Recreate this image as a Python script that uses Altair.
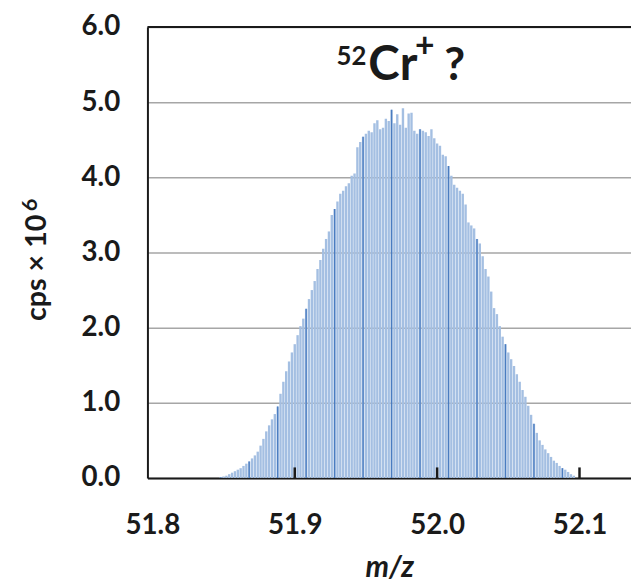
import altair as alt
import pandas as pd

# ---------------- data ----------------
mz_start = 51.848
mz_step = 0.002
cps = [
    0.01, 0.02, 0.03, 0.05, 0.07, 0.09, 0.11, 0.13, 0.16, 0.19,
    0.22, 0.26, 0.30, 0.35, 0.43, 0.52, 0.62, 0.70, 0.78, 0.85,
    0.95, 1.12, 1.28, 1.42, 1.55, 1.67, 1.78, 1.90, 2.02, 2.12,
    2.25, 2.38, 2.50, 2.62, 2.78, 2.90, 3.05, 3.18, 3.28, 3.50,
    3.58, 3.68, 3.78, 3.82, 3.88, 3.92, 4.02, 4.05, 4.40, 4.47,
    4.54, 4.58, 4.62, 4.60, 4.72, 4.76, 4.64, 4.66, 4.78, 4.75,
    4.90, 4.72, 4.84, 4.70, 4.92, 4.66, 4.85, 4.86, 4.62, 4.58,
    4.64, 4.62, 4.60, 4.55, 4.64, 4.52, 4.45, 4.42, 4.30, 4.28,
    4.15, 4.02, 3.90, 3.86, 3.82, 3.78, 3.64, 3.40, 3.36, 3.32,
    3.18, 3.12, 2.95, 2.78, 2.68, 2.48, 2.26, 2.18, 2.02, 1.88,
    1.78, 1.67, 1.58, 1.49, 1.38, 1.28, 1.17, 1.08, 0.96, 0.84,
    0.72, 0.60, 0.50, 0.44, 0.38, 0.33, 0.28, 0.23, 0.20, 0.16,
    0.13, 0.11, 0.08, 0.05, 0.03,
]
mz = [round(mz_start + mz_step * i, 3) for i in range(len(cps))]

x_tick_values = [51.8, 51.9, 52.0, 52.1]
inner_tick_values = [51.9, 52.0, 52.1]
y_tick_values = [0, 1, 2, 3, 4, 5, 6]
x_domain = [51.8, 52.1327]
y_domain = [0, 6]

df = pd.DataFrame({"mz": mz, "cps": cps})
ticks_df = pd.DataFrame({"t": inner_tick_values})

FONT = "Lato"
INK = "#1a1a1a"

xscale = alt.Scale(domain=x_domain, nice=False, zero=False)
yscale = alt.Scale(domain=y_domain, nice=False, zero=True)

x_axis = alt.Axis(
    values=x_tick_values, format=".1f", grid=False, ticks=False, tickSize=0,
    labelFont=FONT, labelFontSize=28, labelFontWeight="bold", labelColor=INK,
    labelPadding=34, domainColor=INK, domainWidth=2,
    title="m/z", titleFont=FONT, titleFontSize=30, titleFontStyle="italic",
    titleFontWeight="bold", titleColor=INK, titlePadding=14,
)
y_axis = alt.Axis(
    values=y_tick_values, format=".1f", grid=True, gridColor="#a6a6a6",
    gridWidth=1.5, ticks=False, tickSize=0,
    labelFont=FONT, labelFontSize=28, labelFontWeight="bold", labelColor=INK,
    labelPadding=28, domainColor=INK, domainWidth=2,
    title="cps × 10", titleFont=FONT, titleFontSize=29, titleFontWeight="bold",
    titleColor=INK, titleAngle=-90, titleAlign="center",
    titleBaseline="alphabetic", titleX=-103, titleY=243,
)

bars = alt.Chart(df).mark_bar(size=2.4, color="#a4bfe2").encode(
    x=alt.X("mz:Q", scale=xscale, axis=x_axis),
    y=alt.Y("cps:Q", scale=yscale, axis=y_axis),
)

dark = alt.Chart(df).transform_window(
    idx="row_number()"
).transform_filter(
    "datum.idx % 10 == 1"
).mark_bar(size=1.3, color="#4a7cc0").encode(
    x=alt.X("mz:Q", scale=xscale),
    y=alt.Y("cps:Q", scale=yscale),
)

top_border = alt.Chart(pd.DataFrame({"y": [6]})).mark_rule(
    color=INK, strokeWidth=2
).encode(y=alt.Y("y:Q", scale=yscale))

inner_ticks = alt.Chart(ticks_df).mark_rule(color=INK, strokeWidth=2.5).encode(
    x=alt.X("t:Q", scale=xscale),
    y=alt.YDatum(0),
    y2=alt.Y2Datum(0.14),
)

# superscript "6" of the y-axis title (10^6)
y_sup = alt.Chart(pd.DataFrame({"a": [0]})).mark_text(
    text="6", font=FONT, fontSize=22, fontWeight="bold", color=INK,
    angle=270, align="center", baseline="alphabetic",
).encode(x=alt.value(-112), y=alt.value(180))


def label(text, xv, yv, size, align):
    return alt.Chart(pd.DataFrame({"a": [0]})).mark_text(
        text=text, font=FONT, fontSize=size, fontWeight="bold", color=INK,
        align=align, baseline="alphabetic",
    ).encode(x=alt.XDatum(xv), y=alt.YDatum(yv))


title_layers = [
    label("52", 51.9503, 5.50, 26, "right"),
    label("Cr", 51.9517, 5.30, 48, "left"),
    label("+", 51.9845, 5.605, 34, "left"),
    label("?", 52.0050, 5.30, 46, "left"),
]

chart = alt.layer(bars, dark, top_border, inner_ticks, y_sup, *title_layers).properties(
    width=489, height=456,
    autosize=alt.AutoSizeParams(type="none"),
    padding={"left": 141, "top": 16, "right": 0, "bottom": 104},
).configure_view(stroke=None).configure(background="white")

chart.save("out.html", embed_options={"renderer": "svg", "actions": False})
